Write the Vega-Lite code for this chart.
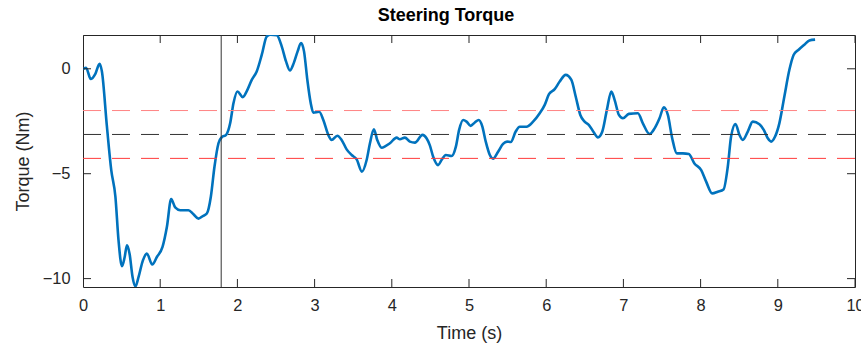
{
  "$schema": "https://vega.github.io/schema/vega-lite/v6.json",
  "autosize": {"type": "none"},
  "width": 772,
  "height": 252,
  "padding": {"left": 83, "top": 35, "right": 6, "bottom": 58},
  "background": "white",
  "config": {
    "font": "Liberation Sans",
    "view": {"stroke": "#262626", "strokeWidth": 1},
    "axis": {"grid": false, "domain": false, "ticks": false, "labelFont": "Liberation Sans", "titleFont": "Liberation Sans", "labelFontSize": 16.4, "titleFontSize": 18, "labelColor": "#262626", "titleColor": "#262626", "titleFontWeight": "normal"}
  },
  "title": {"text": "Steering Torque", "fontSize": 18, "fontWeight": "bold", "color": "#000000", "font": "Liberation Sans", "offset": 10, "dx": -23},
  "datasets": {
    "torque": [
      {"t": 0.0, "v": -0.02}, {"t": 0.04, "v": 0.05}, {"t": 0.1, "v": -0.49}, {"t": 0.16, "v": -0.24},
      {"t": 0.215, "v": 0.24}, {"t": 0.245, "v": -0.13}, {"t": 0.31, "v": -2.76}, {"t": 0.366, "v": -4.83},
      {"t": 0.42, "v": -6.1}, {"t": 0.46, "v": -8.17}, {"t": 0.505, "v": -9.41}, {"t": 0.54, "v": -8.97},
      {"t": 0.569, "v": -8.41}, {"t": 0.603, "v": -8.81}, {"t": 0.642, "v": -9.92}, {"t": 0.68, "v": -10.37},
      {"t": 0.72, "v": -9.92}, {"t": 0.776, "v": -9.13}, {"t": 0.828, "v": -8.81}, {"t": 0.897, "v": -9.33},
      {"t": 0.957, "v": -8.97}, {"t": 1.03, "v": -8.49}, {"t": 1.087, "v": -7.53}, {"t": 1.142, "v": -6.21},
      {"t": 1.194, "v": -6.61}, {"t": 1.259, "v": -6.74}, {"t": 1.366, "v": -6.74}, {"t": 1.431, "v": -6.93},
      {"t": 1.496, "v": -7.14}, {"t": 1.552, "v": -7.02}, {"t": 1.604, "v": -6.9}, {"t": 1.656, "v": -6.1},
      {"t": 1.703, "v": -4.67}, {"t": 1.755, "v": -3.55}, {"t": 1.798, "v": -3.26}, {"t": 1.854, "v": -3.15},
      {"t": 1.906, "v": -2.6}, {"t": 1.949, "v": -1.64}, {"t": 2.0, "v": -1.08}, {"t": 2.07, "v": -1.35},
      {"t": 2.12, "v": -1.08}, {"t": 2.186, "v": -0.53}, {"t": 2.25, "v": -0.13}, {"t": 2.316, "v": 0.67},
      {"t": 2.38, "v": 1.54}, {"t": 2.43, "v": 1.62}, {"t": 2.51, "v": 1.6}, {"t": 2.574, "v": 1.07},
      {"t": 2.63, "v": 0.35}, {"t": 2.68, "v": -0.08}, {"t": 2.73, "v": 0.27}, {"t": 2.78, "v": 0.83},
      {"t": 2.824, "v": 1.23}, {"t": 2.863, "v": 0.83}, {"t": 2.906, "v": -0.53}, {"t": 2.95, "v": -1.64},
      {"t": 2.983, "v": -2.09}, {"t": 3.06, "v": -2.05}, {"t": 3.113, "v": -2.44}, {"t": 3.177, "v": -3.15},
      {"t": 3.22, "v": -3.39}, {"t": 3.294, "v": -3.19}, {"t": 3.35, "v": -3.39}, {"t": 3.415, "v": -3.84},
      {"t": 3.48, "v": -4.11}, {"t": 3.545, "v": -4.32}, {"t": 3.613, "v": -4.9}, {"t": 3.674, "v": -4.35},
      {"t": 3.717, "v": -3.55}, {"t": 3.768, "v": -2.88}, {"t": 3.811, "v": -3.39}, {"t": 3.868, "v": -3.76},
      {"t": 3.975, "v": -3.55}, {"t": 4.062, "v": -3.28}, {"t": 4.105, "v": -3.36}, {"t": 4.17, "v": -3.28},
      {"t": 4.234, "v": -3.47}, {"t": 4.3, "v": -3.52}, {"t": 4.398, "v": -3.15}, {"t": 4.45, "v": -3.31},
      {"t": 4.493, "v": -3.65}, {"t": 4.536, "v": -4.19}, {"t": 4.6, "v": -4.59}, {"t": 4.644, "v": -4.35},
      {"t": 4.7, "v": -4.11}, {"t": 4.774, "v": -4.16}, {"t": 4.83, "v": -3.71}, {"t": 4.872, "v": -2.91},
      {"t": 4.924, "v": -2.44}, {"t": 4.968, "v": -2.52}, {"t": 5.02, "v": -2.72}, {"t": 5.075, "v": -2.56},
      {"t": 5.127, "v": -2.44}, {"t": 5.17, "v": -2.72}, {"t": 5.217, "v": -3.47}, {"t": 5.27, "v": -4.11},
      {"t": 5.312, "v": -4.28}, {"t": 5.377, "v": -3.95}, {"t": 5.441, "v": -3.58}, {"t": 5.493, "v": -3.47},
      {"t": 5.541, "v": -3.49}, {"t": 5.605, "v": -2.99}, {"t": 5.657, "v": -2.76}, {"t": 5.744, "v": -2.76},
      {"t": 5.83, "v": -2.52}, {"t": 5.916, "v": -2.12}, {"t": 5.981, "v": -1.72}, {"t": 6.036, "v": -1.21},
      {"t": 6.11, "v": -0.97}, {"t": 6.175, "v": -0.61}, {"t": 6.252, "v": -0.29}, {"t": 6.326, "v": -0.53},
      {"t": 6.382, "v": -1.32}, {"t": 6.442, "v": -2.2}, {"t": 6.498, "v": -2.52}, {"t": 6.554, "v": -2.68},
      {"t": 6.618, "v": -3.04}, {"t": 6.67, "v": -3.27}, {"t": 6.727, "v": -2.99}, {"t": 6.786, "v": -1.96},
      {"t": 6.843, "v": -1.08}, {"t": 6.886, "v": -1.48}, {"t": 6.942, "v": -2.2}, {"t": 6.994, "v": -2.36},
      {"t": 7.071, "v": -2.15}, {"t": 7.188, "v": -2.12}, {"t": 7.252, "v": -2.6}, {"t": 7.339, "v": -3.11},
      {"t": 7.404, "v": -2.84}, {"t": 7.468, "v": -2.36}, {"t": 7.524, "v": -1.83}, {"t": 7.576, "v": -2.2},
      {"t": 7.632, "v": -3.31}, {"t": 7.692, "v": -4.03}, {"t": 7.77, "v": -4.03}, {"t": 7.847, "v": -4.06},
      {"t": 7.92, "v": -4.51}, {"t": 8.008, "v": -4.83}, {"t": 8.072, "v": -5.38}, {"t": 8.15, "v": -5.94},
      {"t": 8.223, "v": -5.86}, {"t": 8.297, "v": -5.75}, {"t": 8.352, "v": -4.67}, {"t": 8.395, "v": -3.23},
      {"t": 8.452, "v": -2.63}, {"t": 8.503, "v": -3.15}, {"t": 8.546, "v": -3.39}, {"t": 8.611, "v": -2.99},
      {"t": 8.676, "v": -2.52}, {"t": 8.762, "v": -2.64}, {"t": 8.818, "v": -2.91}, {"t": 8.87, "v": -3.31},
      {"t": 8.913, "v": -3.47}, {"t": 8.965, "v": -3.23}, {"t": 9.02, "v": -2.6}, {"t": 9.085, "v": -1.32},
      {"t": 9.15, "v": -0.05}, {"t": 9.206, "v": 0.67}, {"t": 9.27, "v": 0.91}, {"t": 9.344, "v": 1.15},
      {"t": 9.409, "v": 1.35}, {"t": 9.483, "v": 1.39}
    ],
    "hlines": [
      {"y": -1.99, "kind": "upper"},
      {"y": -3.13, "kind": "mean"},
      {"y": -4.27, "kind": "lower"}
    ],
    "vline": [{"t": 1.79}],
    "xticks": [{"t": 0}, {"t": 1}, {"t": 2}, {"t": 3}, {"t": 4}, {"t": 5}, {"t": 6}, {"t": 7}, {"t": 8}, {"t": 9}, {"t": 10}],
    "yticks": [{"v": -10}, {"v": -5}, {"v": 0}]
  },
  "layer": [
    {
      "data": {"name": "torque"},
      "mark": {"type": "line", "color": "#0072BD", "strokeWidth": 2.6, "interpolate": "monotone", "clip": true},
      "encoding": {
        "x": {"field": "t", "type": "quantitative", "scale": {"domain": [0, 10], "nice": false, "zero": false}, "axis": {"orient": "bottom", "values": [0, 1, 2, 3, 4, 5, 6, 7, 8, 9, 10], "format": "d", "title": "Time (s)", "labelPadding": 10, "labelFlush": false, "titleY": 46, "titleBaseline": "middle"}},
        "y": {"field": "v", "type": "quantitative", "scale": {"domain": [-10.4, 1.61], "nice": false, "zero": false}, "axis": {"orient": "left", "values": [-10, -5, 0], "format": "d", "title": "Torque (Nm)", "labelPadding": 13, "titleX": -59.5, "titleBaseline": "middle"}}
      }
    },
    {
      "data": {"name": "hlines"},
      "mark": {"type": "rule", "strokeDash": [18, 11], "strokeWidth": 1},
      "encoding": {
        "y": {"field": "y", "type": "quantitative"},
        "color": {"field": "kind", "type": "nominal", "scale": {"domain": ["upper", "mean", "lower"], "range": ["#ff8585", "#333333", "#ff3b3b"]}, "legend": null}
      }
    },
    {
      "data": {"name": "vline"},
      "mark": {"type": "rule", "color": "#333333", "strokeWidth": 1},
      "encoding": {
        "x": {"field": "t", "type": "quantitative"}
      }
    },
    {
      "data": {"name": "xticks"},
      "mark": {"type": "tick", "orient": "vertical", "size": 16, "thickness": 1, "color": "#262626", "clip": true, "opacity": 1},
      "encoding": {
        "x": {"field": "t", "type": "quantitative"},
        "y": {"datum": 1.61, "type": "quantitative"}
      }
    },
    {
      "data": {"name": "xticks"},
      "mark": {"type": "tick", "orient": "vertical", "size": 16, "thickness": 1, "color": "#262626", "clip": true, "opacity": 1},
      "encoding": {
        "x": {"field": "t", "type": "quantitative"},
        "y": {"datum": -10.4, "type": "quantitative"}
      }
    },
    {
      "data": {"name": "yticks"},
      "mark": {"type": "tick", "orient": "horizontal", "size": 16, "thickness": 1, "color": "#262626", "clip": true, "opacity": 1},
      "encoding": {
        "y": {"field": "v", "type": "quantitative"},
        "x": {"datum": 0, "type": "quantitative"}
      }
    },
    {
      "data": {"name": "yticks"},
      "mark": {"type": "tick", "orient": "horizontal", "size": 16, "thickness": 1, "color": "#262626", "clip": true, "opacity": 1},
      "encoding": {
        "y": {"field": "v", "type": "quantitative"},
        "x": {"datum": 10, "type": "quantitative"}
      }
    }
  ]
}
